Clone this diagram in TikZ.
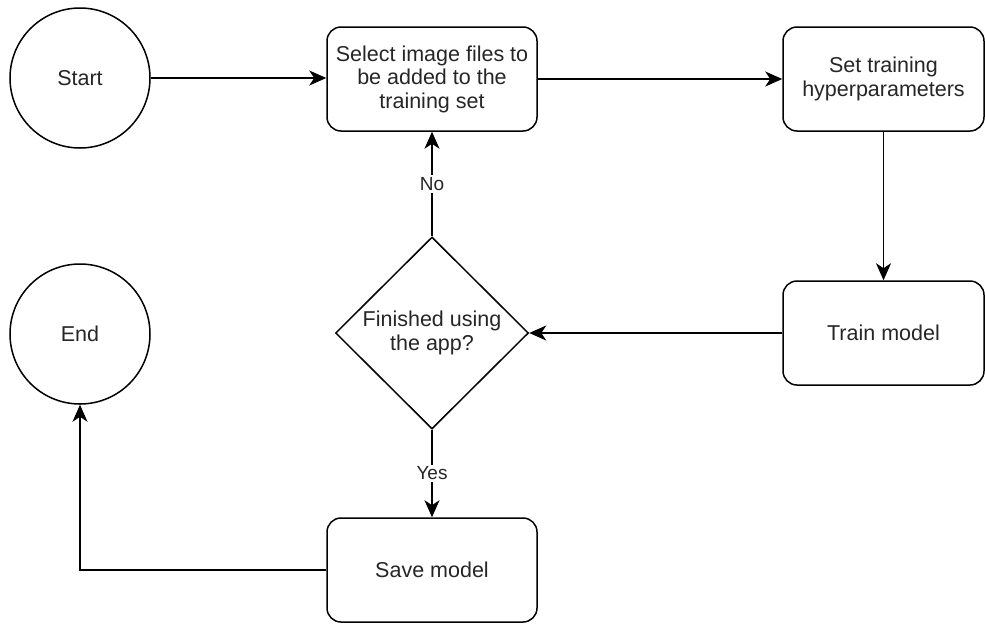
\documentclass[tikz,border=0pt]{standalone}
\usepackage{fontspec}
\setmainfont{Liberation Sans}
\usetikzlibrary{arrows.meta,shapes.geometric}

\tikzset{
  base/.style={draw=black, line width=1.5pt, align=center, inner sep=0pt,
    text=black!85, font=\fontsize{21.5}{23.5}\selectfont},
  terminal/.style={base, circle, minimum size=140pt},
  process/.style={base, rectangle, rounded corners=14pt,
    minimum width=210pt, minimum height=104pt},
  decision/.style={base, diamond, aspect=1,
    minimum width=193pt, minimum height=192pt},
  flow/.style={line width=1.7pt, -{Stealth[length=17pt,width=15pt,inset=5pt]}},
  lbl/.style={fill=white, inner sep=2pt, text=black!85,
    font=\fontsize{19}{21}\selectfont}
}

\begin{document}
\begin{tikzpicture}[x=1pt,y=-1pt]
  \fill[white] (0,0) rectangle (985,624);
  \useasboundingbox (0,0) rectangle (985,624);

  % shapes
  \node[terminal] (start) at (80,78) {Start};
  \node[terminal] (end) at (80,334) {End};
  \node[process] (select) at (432,79) {Select image files to\\be added to the\\training set};
  \node[process, minimum width=201pt] (set) at (883.5,79) {Set training\\hyperparameters};
  \node[process, minimum width=201pt] (train) at (883.5,333) {Train model};
  \node[decision] (dec) at (432,333) {Finished using\\the app?};
  \node[process] (save) at (432,570) {Save model};

  % connectors
  \draw[flow] (start.east) -- (start.east -| select.west);
  \draw[flow] (select.east) -- (select.east -| set.west);
  \draw[flow] (set.south) -- (train.north);
  \draw[flow] (train.west) -- (dec.east);
  \draw[flow] (dec.north) -- node[lbl] {No} (select.south);
  \draw[flow] (dec.south) -- node[lbl] {Yes} (save.north);
  \draw[flow] (save.west) -| (end.south);
\end{tikzpicture}
\end{document}
